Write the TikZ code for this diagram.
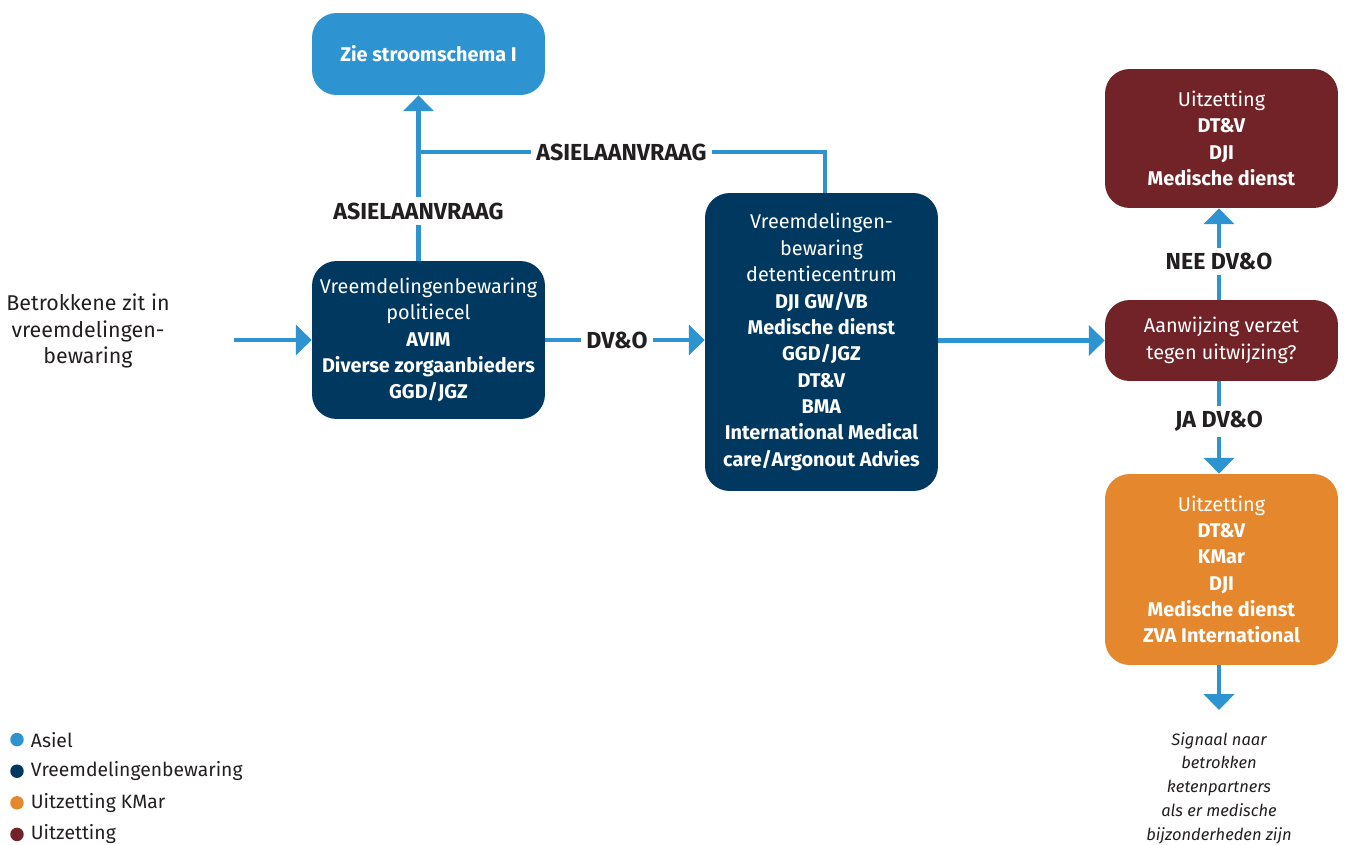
\documentclass[tikz,border=0pt]{standalone}
\usepackage{fontspec}
\setmainfont{Fira Sans}
\usetikzlibrary{arrows.meta,positioning}

\definecolor{asiel}{HTML}{2E93D1}
\definecolor{bewaring}{HTML}{01385F}
\definecolor{kmar}{HTML}{E5872C}
\definecolor{uitz}{HTML}{722328}
\definecolor{labelgray}{HTML}{231F20}

\tikzset{
  box/.style={rounded corners=14pt, minimum width=4.66cm, inner sep=0pt,
    text=white, align=center, font=\fontsize{11.3}{15}\selectfont},
  flowline/.style={line width=2.6pt, draw=asiel},
  flow/.style={flowline, -{Triangle[length=9pt,width=17pt]}},
  lbl/.style={fill=white, inner sep=3pt, text=labelgray,
    font=\bfseries\fontsize{13.2}{15}\selectfont},
  plain/.style={align=center, text=labelgray, font=\fontsize{12.2}{15}\selectfont},
  dot/.style={circle, inner sep=0pt, minimum size=0.27cm}
}

\begin{document}
\begin{tikzpicture}[x=0.02cm, y=-0.02cm]
\useasboundingbox (0,0) rectangle (1346,845);

\node[plain] (betr) at (88,331) {Betrokkene zit in\\vreemdelingen-\\bewaring};
\coordinate (start) at (234,340);

\node[box, fill=asiel, minimum height=1.64cm] (zie) at (428.5,54) {\textbf{Zie stroomschema I}};
\node[box, fill=bewaring, minimum height=3.16cm] (pol) at (428.5,340)
  {Vreemdelingenbewaring\\politiecel\\\textbf{AVIM}\\\textbf{Diverse zorgaanbieders}\\\textbf{GGD/JGZ}};
\node[box, fill=bewaring, minimum height=5.96cm] (det) at (821.5,342)
  {Vreemdelingen-\\bewaring\\detentiecentrum\\\textbf{DJI GW/VB}\\\textbf{Medische dienst}\\\textbf{GGD/JGZ}\\\textbf{DT\&V}\\\textbf{BMA}\\\textbf{International Medical}\\\textbf{care/Argonout Advies}};
\node[box, fill=uitz, minimum height=2.78cm] (uitz) at (1221.5,138.5)
  {Uitzetting\\\textbf{DT\&V}\\\textbf{DJI}\\\textbf{Medische dienst}};
\node[box, fill=uitz, minimum height=1.62cm] (aanw) at (1221.5,340.5)
  {Aanwijzing verzet\\tegen uitwijzing?};
\node[box, fill=kmar, minimum height=3.82cm] (kmar) at (1221.5,569.5)
  {Uitzetting\\\textbf{DT\&V}\\\textbf{KMar}\\\textbf{DJI}\\\textbf{Medische dienst}\\\textbf{ZVA International}};

\coordinate (split) at (418,152);
\coordinate (eind) at (1219,710);
\node[plain, anchor=north, font=\itshape\fontsize{9.4}{13.6}\selectfont] (signaal) at (1219,726)
  {Signaal naar\\betrokken\\ketenpartners\\als er medische\\bijzonderheden zijn};

\draw[flow] (start) -- (pol.west);
\draw[flow] ([xshift=-0.2cm]pol.north) -- node[lbl, pos=0.3] {ASIELAANVRAAG} ([xshift=-0.2cm]zie.south);
\draw[flowline] ([xshift=0.07cm]det.north) |- node[lbl, pos=0.75] {ASIELAANVRAAG} (split);
\draw[flow] (pol.east) -- node[lbl, pos=0.45] {DV\&O} (pol.east -| det.west);
\draw[flow] (det.east |- aanw.west) -- (aanw.west);
\draw[flow] ([xshift=-0.05cm]aanw.north) -- node[lbl, pos=0.42] {NEE DV\&O} ([xshift=-0.05cm]uitz.south);
\draw[flow] ([xshift=-0.05cm]aanw.south) -- node[lbl, pos=0.43] {JA DV\&O} ([xshift=-0.05cm]kmar.north);
\draw[flow] (kmar.south -| eind) -- (eind);

\foreach \c/\t [count=\i] in {asiel/Asiel, bewaring/Vreemdelingenbewaring, kmar/Uitzetting KMar, uitz/Uitzetting} {
  \node[dot, fill=\c] (dot\i) at (17,{708+31.6*\i}) {};
  \node[plain, anchor=west, inner sep=0pt, right=0.13cm of dot\i, font=\fontsize{11}{13}\selectfont] (leg\i) {\t};
}
\end{tikzpicture}
\end{document}
